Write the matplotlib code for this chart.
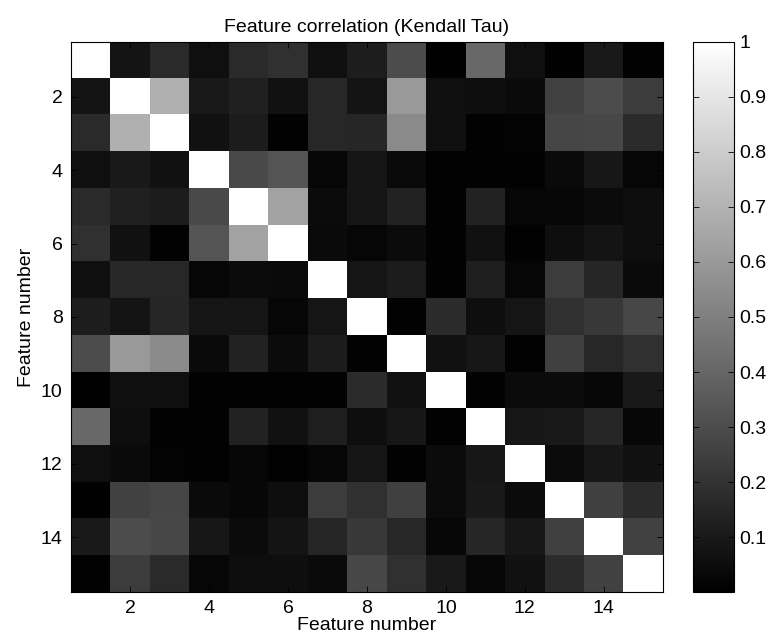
import numpy as np
import matplotlib
matplotlib.use('Agg')
import matplotlib.pyplot as plt

plt.rcParams['font.family'] = ['Liberation Sans', 'DejaVu Sans']

# Kendall tau between features (symmetric)
row_1 = [1.00, 0.08, 0.165, 0.06, 0.165, 0.19, 0.06, 0.115, 0.30, 0.005, 0.41, 0.06, 0.005, 0.10, 0.01]
row_2 = [0.08, 1.00, 0.69, 0.10, 0.125, 0.07, 0.155, 0.08, 0.60, 0.06, 0.055, 0.04, 0.26, 0.30, 0.24]
row_3 = [0.165, 0.69, 1.00, 0.07, 0.11, 0.01, 0.155, 0.15, 0.54, 0.06, 0.01, 0.015, 0.275, 0.28, 0.165]
row_4 = [0.06, 0.10, 0.07, 1.00, 0.29, 0.33, 0.025, 0.085, 0.04, 0.01, 0.01, 0.01, 0.04, 0.09, 0.025]
row_5 = [0.165, 0.125, 0.11, 0.29, 1.00, 0.635, 0.045, 0.085, 0.135, 0.01, 0.135, 0.025, 0.03, 0.045, 0.055]
row_6 = [0.19, 0.07, 0.01, 0.33, 0.635, 1.00, 0.04, 0.025, 0.045, 0.01, 0.07, 0.01, 0.055, 0.08, 0.055]
row_7 = [0.06, 0.155, 0.155, 0.025, 0.045, 0.04, 1.00, 0.085, 0.11, 0.01, 0.12, 0.025, 0.24, 0.15, 0.04]
row_8 = [0.115, 0.08, 0.15, 0.085, 0.085, 0.025, 0.085, 1.00, 0.01, 0.17, 0.055, 0.085, 0.19, 0.22, 0.28]
row_9 = [0.30, 0.60, 0.54, 0.04, 0.135, 0.045, 0.11, 0.01, 1.00, 0.07, 0.09, 0.01, 0.25, 0.155, 0.19]
row_10 = [0.005, 0.06, 0.06, 0.01, 0.01, 0.01, 0.01, 0.17, 0.07, 1.00, 0.01, 0.045, 0.045, 0.03, 0.10]
row_11 = [0.41, 0.055, 0.01, 0.01, 0.135, 0.07, 0.12, 0.055, 0.09, 0.01, 1.00, 0.09, 0.10, 0.15, 0.03]
row_12 = [0.06, 0.04, 0.015, 0.01, 0.025, 0.01, 0.025, 0.085, 0.01, 0.045, 0.09, 1.00, 0.045, 0.09, 0.07]
row_13 = [0.005, 0.26, 0.275, 0.04, 0.03, 0.055, 0.24, 0.19, 0.25, 0.045, 0.10, 0.045, 1.00, 0.25, 0.17]
row_14 = [0.10, 0.30, 0.28, 0.09, 0.045, 0.08, 0.15, 0.22, 0.155, 0.03, 0.15, 0.09, 0.25, 1.00, 0.26]
row_15 = [0.01, 0.24, 0.165, 0.025, 0.055, 0.055, 0.04, 0.28, 0.19, 0.10, 0.03, 0.07, 0.17, 0.26, 1.00]

axis_ticks = [2, 4, 6, 8, 10, 12, 14]
cbar_ticks = [0.1, 0.2, 0.3, 0.4, 0.5, 0.6, 0.7, 0.8, 0.9, 1.0]
cbar_labels = ['0.1', '0.2', '0.3', '0.4', '0.5', '0.6', '0.7', '0.8', '0.9', '1']

tau = np.array([row_1, row_2, row_3, row_4, row_5, row_6, row_7, row_8,
                row_9, row_10, row_11, row_12, row_13, row_14, row_15])
n = tau.shape[0]
fs = 14

fig = plt.figure(figsize=(7.68, 6.43), dpi=100)
ax = fig.add_axes([0.0924, 0.0793, 0.7708, 0.8554])
cax = fig.add_axes([0.9023, 0.0793, 0.0534, 0.8554])

im = ax.imshow(tau, cmap='gray', vmin=0.0, vmax=1.0, interpolation='nearest',
               aspect='auto', extent=(0.5, n + 0.5, n + 0.5, 0.5))
ax.set_xticks(axis_ticks)
ax.set_yticks(axis_ticks)
ax.tick_params(direction='in', top=True, right=True, length=4, width=0.6,
               labelsize=fs, pad=6)
for s in ax.spines.values():
    s.set_linewidth(0.8)
ax.set_title('Feature correlation (Kendall Tau)', fontsize=fs, pad=7)
ax.set_xlabel('Feature number', fontsize=fs, labelpad=0)
ax.set_ylabel('Feature number', fontsize=fs, labelpad=4)

cb = fig.colorbar(im, cax=cax)
cb.set_ticks(cbar_ticks)
cb.set_ticklabels(cbar_labels)
cax.tick_params(direction='in', left=True, right=True, length=4, width=0.6,
                labelsize=fs, pad=4)
cb.outline.set_linewidth(0.8)

plt.savefig('out.png', dpi=100)
